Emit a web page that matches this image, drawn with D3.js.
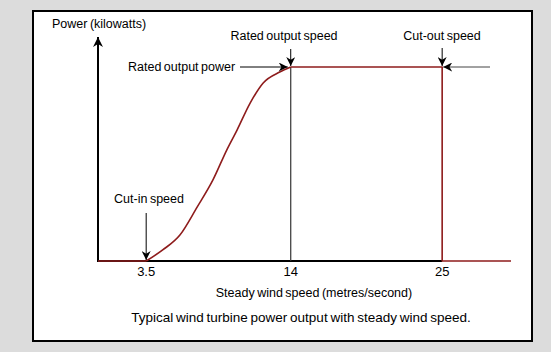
<!DOCTYPE html>
<html>
<head>
<meta charset="utf-8">
<script src="https://cdn.jsdelivr.net/npm/d3@7"></script>
<style>
	html, body { margin: 0; padding: 0; background: #dcdcdc; }
	svg { display: block; font-family: "Liberation Sans", Arial, sans-serif; }
	text { fill: #000; word-spacing: -1px; }
</style>
</head>
<body>
<div id="chart"></div>
<script>
	// curve: wind speed (m/s) -> relative power
	const riseSpeed = [3.5, 4.7, 5.95, 7.2, 8.35, 9.35, 10.1, 11.05, 12.0, 13.2, 14];
	const risePower = [0, 0.057, 0.134, 0.278, 0.418, 0.572, 0.675, 0.814, 0.918, 0.974, 1];
	const flatSpeed = [14, 25, 25, 30];
	const flatPower = [1, 1, 0, 0];
	const baseSpeed = [0, 3.5];
	const basePower = [0, 0];
	const tickValues = [3.5, 14, 25];
	const tickLabels = ["3.5", "14", "25"];
	const cutIn = 3.5, ratedSpeed = 14, cutOut = 25, ratedPower = 1;

	const width = 551, height = 352;
	const svg = d3.select("#chart").append("svg")
		.attr("width", width).attr("height", height);

	// arrow heads
	const defs = svg.append("defs");
	defs.append("marker")
		.attr("id", "head")
		.attr("viewBox", "0 0 10 10")
		.attr("refX", 10).attr("refY", 5)
		.attr("markerWidth", 9).attr("markerHeight", 9)
		.attr("markerUnits", "userSpaceOnUse")
		.attr("orient", "auto")
		.append("path")
		.attr("d", "M0,0 L10,5 L0,10 L3,5 Z")
		.attr("fill", "#000");
	defs.append("marker")
		.attr("id", "bighead")
		.attr("viewBox", "0 0 10 10")
		.attr("refX", 10).attr("refY", 5)
		.attr("markerWidth", 11).attr("markerHeight", 10)
		.attr("markerUnits", "userSpaceOnUse")
		.attr("orient", "auto")
		.append("path")
		.attr("d", "M0,0 L10,5 L0,10 L3,5 Z")
		.attr("fill", "#000");

	// white panel
	svg.append("rect")
		.attr("x", 33).attr("y", 11)
		.attr("width", 499).attr("height", 330)
		.attr("fill", "#fff")
		.attr("stroke", "#000")
		.attr("stroke-width", 2);

	const x = d3.scaleLinear().domain([0, 30]).range([98, 511]);
	const y = d3.scaleLinear().domain([0, 1]).range([261, 67]);

	const g = svg.append("g");

	// x axis line (black) and y axis with arrow
	g.append("line")
		.attr("x1", x(0)).attr("x2", x(cutOut))
		.attr("y1", y(0)).attr("y2", y(0))
		.attr("stroke", "#000").attr("stroke-width", 2);
	g.append("line")
		.attr("x1", x(0)).attr("x2", x(0))
		.attr("y1", y(0) + 1).attr("y2", y(1.155))
		.attr("stroke", "#000").attr("stroke-width", 2)
		.attr("marker-end", "url(#bighead)");

	// rated speed vertical
	g.append("line")
		.attr("x1", x(ratedSpeed)).attr("x2", x(ratedSpeed))
		.attr("y1", y(ratedPower)).attr("y2", y(0))
		.attr("stroke", "#333").attr("stroke-width", 1.2);

	// power curve
	const red = "#8e1c1c";
	const drawCurve = (xs, ys, curve) => {
		const line = d3.line()
			.curve(curve)
			.x((d, i) => x(xs[i]))
			.y((d, i) => y(ys[i]));
		g.append("path")
			.datum(ys)
			.attr("d", line)
			.attr("fill", "none")
			.attr("stroke", red)
			.attr("stroke-width", 1.6)
			.attr("stroke-linejoin", "round");
	};
	drawCurve(baseSpeed, basePower, d3.curveLinear);
	drawCurve(riseSpeed, risePower, d3.curveMonotoneX);
	drawCurve(flatSpeed, flatPower, d3.curveLinear);

	// tick labels
	g.selectAll(".tick-label").data(tickValues).enter().append("text")
		.attr("class", "tick-label")
		.attr("x", d => x(d))
		.attr("y", 276)
		.attr("text-anchor", "middle")
		.style("font-size", "13px")
		.text((d, i) => tickLabels[i]);

	// annotation arrows
	const arrow = (x1, y1, x2, y2, color) => {
		g.append("line")
			.attr("x1", x1).attr("y1", y1).attr("x2", x2).attr("y2", y2)
			.attr("stroke", color || "#000").attr("stroke-width", 1)
			.attr("marker-end", "url(#head)");
	};
	arrow(x(cutIn), 213, x(cutIn), y(0) - 1);
	arrow(x(ratedSpeed), 49, x(ratedSpeed), y(ratedPower) - 1);
	arrow(240, y(ratedPower), x(ratedSpeed) - 3, y(ratedPower));
	arrow(x(cutOut), 48, x(cutOut), y(ratedPower) - 1);
	arrow(490, y(ratedPower), x(cutOut) + 1, y(ratedPower), "#444");

	// labels
	const label = (txt, tx, ty, anchor, size) => {
		g.append("text")
			.attr("x", tx).attr("y", ty)
			.attr("text-anchor", anchor || "start")
			.style("font-size", (size || 12.5) + "px")
			.text(txt);
	};
	label("Power (kilowatts)", 52, 28);
	label("Rated output speed", 284, 40, "middle");
	label("Rated output power", 128, 71);
	label("Cut-out speed", 442, 40, "middle");
	label("Cut-in speed", 149, 203, "middle");
	label("Steady wind speed (metres/second)", 314, 297, "middle");
	label("Typical wind turbine power output with steady wind speed.", 301, 322, "middle", 13.5);
</script>
</body>
</html>
